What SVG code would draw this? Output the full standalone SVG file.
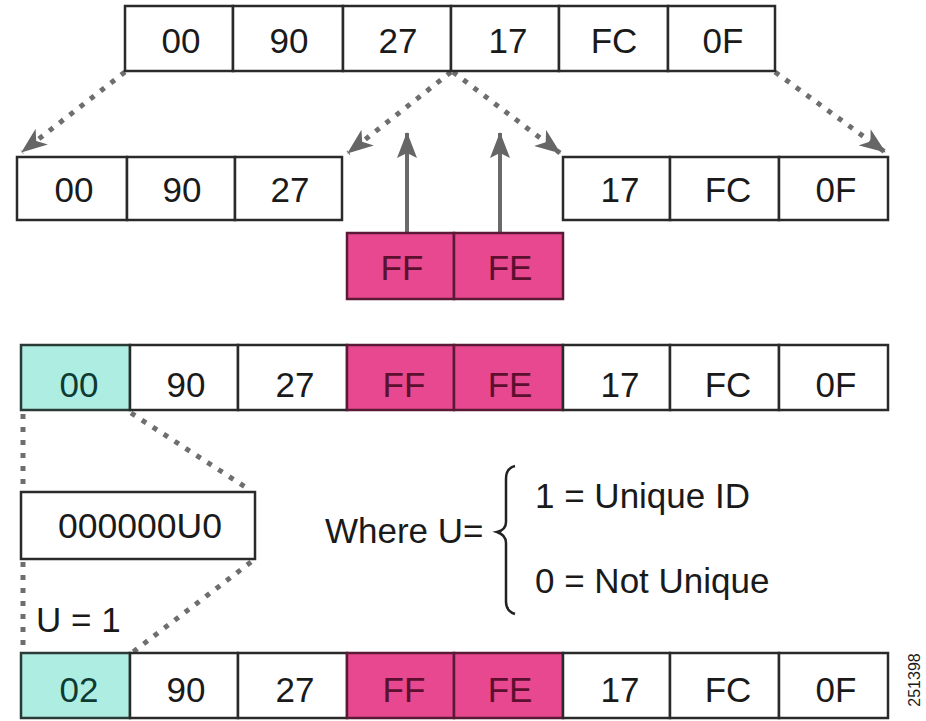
<svg xmlns="http://www.w3.org/2000/svg" width="926" height="721" viewBox="0 0 926 721">
  <style>
    .cell { fill: #ffffff; stroke: #2a2a2a; stroke-width: 2.5; }
    .pink { fill: #e8488f; stroke: #5a1a35; stroke-width: 2.5; }
    .cyan { fill: #aeeee2; stroke: #2a3a36; stroke-width: 2.5; }
    .t { font-family: "Liberation Sans", Arial, sans-serif; font-size: 35px; fill: #1a1a1a; text-anchor: middle; }
    .tp { fill: #5c1030; }
    .tc { fill: #0d3b33; }
    .lbl { font-family: "Liberation Sans", Arial, sans-serif; font-size: 35px; fill: #1a1a1a; }
    .dot { stroke: #6e6e6e; stroke-width: 5; stroke-dasharray: 5 8; fill: none; }
    .up { stroke: #6a6a6a; stroke-width: 4; fill: none; }
  </style>
  <defs>
    <marker id="head" viewBox="0 0 26 20" refX="25" refY="10" markerWidth="26" markerHeight="20" markerUnits="userSpaceOnUse" orient="auto">
      <path d="M0,0 L26,10 L0,20 L7,10 Z" fill="#666666"/>
    </marker>
    <marker id="uphead" viewBox="0 0 26 20" refX="25" refY="10" markerWidth="26" markerHeight="20" markerUnits="userSpaceOnUse" orient="auto">
      <path d="M0,0 L26,10 L0,20 L5,10 Z" fill="#666666"/>
    </marker>
  </defs>

  <rect width="926" height="721" fill="#ffffff"/>

  <!-- connectors -->
  <g id="connectors">
    <line class="dot" x1="125" y1="72" x2="22" y2="152" marker-end="url(#head)"/>
    <line class="dot" x1="451" y1="72" x2="348" y2="153" marker-end="url(#head)"/>
    <line class="dot" x1="453" y1="72" x2="560" y2="153" marker-end="url(#head)"/>
    <line class="dot" x1="775" y1="72" x2="885" y2="152" marker-end="url(#head)"/>
    <line class="up" x1="407" y1="232" x2="407" y2="133" marker-end="url(#uphead)"/>
    <line class="up" x1="500" y1="232" x2="500" y2="133" marker-end="url(#uphead)"/>
    <line class="dot" x1="23" y1="414" x2="23" y2="492"/>
    <line class="dot" x1="131" y1="413" x2="250" y2="490"/>
    <line class="dot" x1="23" y1="562" x2="23" y2="652"/>
    <line class="dot" x1="251" y1="562" x2="133" y2="652"/>
  </g>

  <!-- original address -->
  <g id="row-original">
    <rect class="cell" x="125" y="6" width="108" height="65"/>
    <rect class="cell" x="233" y="6" width="110" height="65"/>
    <rect class="cell" x="343" y="6" width="108" height="65"/>
    <rect class="cell" x="451" y="6" width="108" height="65"/>
    <rect class="cell" x="559" y="6" width="109" height="65"/>
    <rect class="cell" x="668" y="6" width="107" height="65"/>
    <text class="t" x="181" y="53">00</text>
    <text class="t" x="289" y="53">90</text>
    <text class="t" x="398" y="53">27</text>
    <text class="t" x="508" y="53">17</text>
    <text class="t" x="614" y="53">FC</text>
    <text class="t" x="723" y="53">0F</text>
  </g>

  <!-- split halves -->
  <g id="row-left-half">
    <rect class="cell" x="17" y="157" width="110" height="63"/>
    <rect class="cell" x="127" y="157" width="108" height="63"/>
    <rect class="cell" x="235" y="157" width="107" height="63"/>
    <text class="t" x="74" y="202">00</text>
    <text class="t" x="182" y="202">90</text>
    <text class="t" x="290" y="202">27</text>
  </g>
  <g id="row-right-half">
    <rect class="cell" x="563" y="157" width="107" height="63"/>
    <rect class="cell" x="670" y="157" width="109" height="63"/>
    <rect class="cell" x="779" y="157" width="109" height="63"/>
    <text class="t" x="620" y="202">17</text>
    <text class="t" x="728" y="202">FC</text>
    <text class="t" x="836" y="202">0F</text>
  </g>

  <!-- inserted bytes -->
  <g id="insert-fffe">
    <rect class="pink" x="347" y="233" width="107" height="66"/>
    <rect class="pink" x="454" y="233" width="109" height="66"/>
    <text class="t tp" x="402" y="280">FF</text>
    <text class="t tp" x="510" y="280">FE</text>
  </g>

  <!-- EUI-64 before flip -->
  <g id="row-eui64">
    <rect class="cyan" x="21" y="345" width="109" height="65"/>
    <rect class="cell" x="130" y="345" width="108" height="65"/>
    <rect class="cell" x="238" y="345" width="109" height="65"/>
    <rect class="pink" x="347" y="345" width="107" height="65"/>
    <rect class="pink" x="454" y="345" width="109" height="65"/>
    <rect class="cell" x="563" y="345" width="107" height="65"/>
    <rect class="cell" x="670" y="345" width="109" height="65"/>
    <rect class="cell" x="779" y="345" width="109" height="65"/>
    <text class="t tc" x="79" y="397">00</text>
    <text class="t" x="186" y="397">90</text>
    <text class="t" x="295" y="397">27</text>
    <text class="t tp" x="404" y="397">FF</text>
    <text class="t tp" x="510" y="397">FE</text>
    <text class="t" x="620" y="397">17</text>
    <text class="t" x="728" y="397">FC</text>
    <text class="t" x="836" y="397">0F</text>
  </g>

  <!-- bit layout of first byte -->
  <g id="bits-box">
    <rect class="cell" x="21" y="492" width="234" height="67"/>
    <text class="t" x="140" y="538" font-size="31" textLength="164" lengthAdjust="spacingAndGlyphs">000000U0</text>
  </g>

  <g id="legend">
    <text class="lbl" x="325" y="543">Where U=</text>
    <path d="M515,466 Q506,468 506,479 L506,522 Q506,530 497,532 Q506,535 506,543 L506,602 Q506,611 515,614" fill="none" stroke="#222222" stroke-width="2.5"/>
    <text class="lbl" x="535" y="508">1 = Unique ID</text>
    <text class="lbl" x="535" y="593">0 = Not Unique</text>
  </g>

  <g id="u-label">
    <text class="lbl" x="36" y="632" font-size="34">U = 1</text>
  </g>

  <!-- modified EUI-64 -->
  <g id="row-modified">
    <rect class="cyan" x="21" y="653" width="109" height="65"/>
    <rect class="cell" x="130" y="653" width="108" height="65"/>
    <rect class="cell" x="238" y="653" width="109" height="65"/>
    <rect class="pink" x="347" y="653" width="107" height="65"/>
    <rect class="pink" x="454" y="653" width="109" height="65"/>
    <rect class="cell" x="563" y="653" width="107" height="65"/>
    <rect class="cell" x="670" y="653" width="109" height="65"/>
    <rect class="cell" x="779" y="653" width="109" height="65"/>
    <text class="t tc" x="79" y="702">02</text>
    <text class="t" x="186" y="702">90</text>
    <text class="t" x="295" y="702">27</text>
    <text class="t tp" x="404" y="702">FF</text>
    <text class="t tp" x="510" y="702">FE</text>
    <text class="t" x="620" y="702">17</text>
    <text class="t" x="728" y="702">FC</text>
    <text class="t" x="836" y="702">0F</text>
  </g>

  <text transform="translate(920,680) rotate(-90)" font-family="'Liberation Sans', Arial, sans-serif" font-size="16" fill="#1a1a1a" text-anchor="middle">251398</text>
</svg>
